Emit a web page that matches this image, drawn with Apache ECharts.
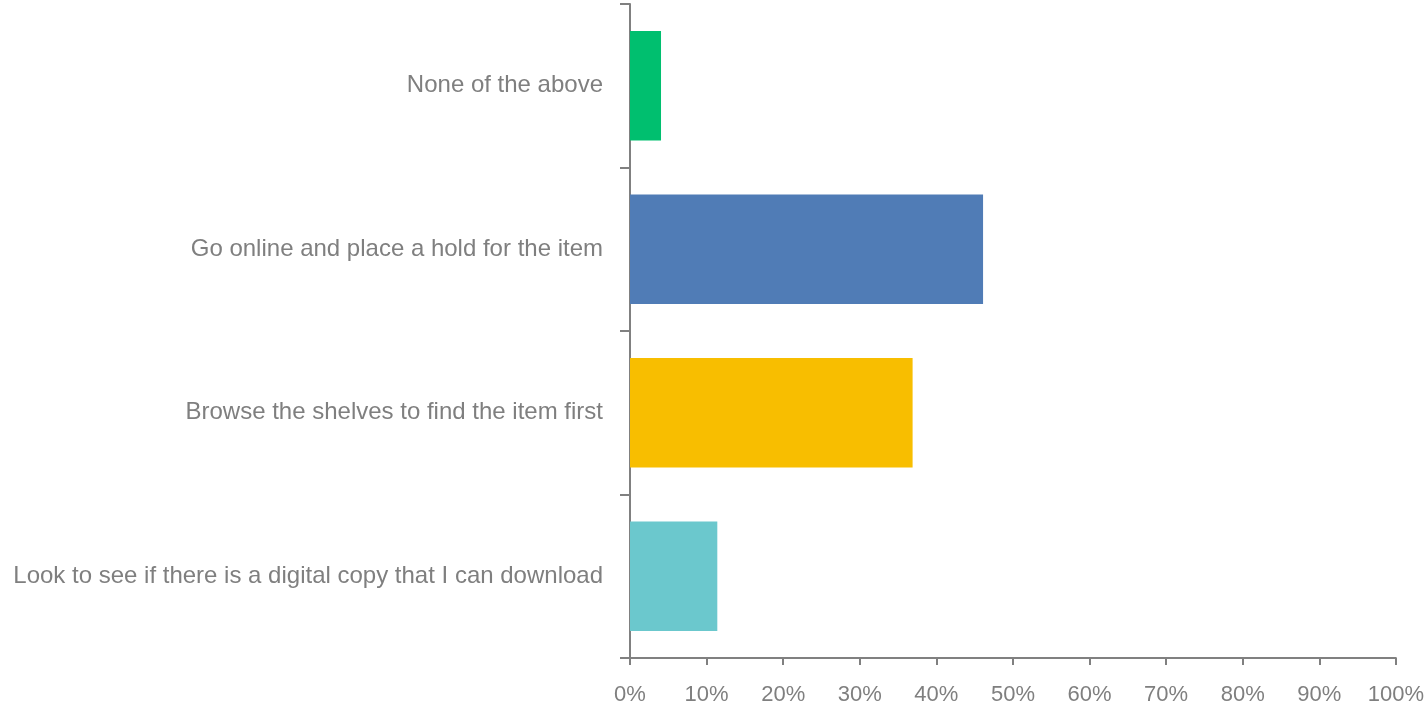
<!DOCTYPE html>
<html>
<head>
<meta charset="utf-8">
<script src="https://cdn.jsdelivr.net/npm/echarts@6/dist/echarts.min.js"></script>
<style>html,body{margin:0;padding:0;background:#fff;}#c{width:1427px;height:707px;}</style>
</head>
<body>
<div id="c"></div>
<script>
const categories = [
  'Look to see if there is a digital copy that I can download',
  'Browse the shelves to find the item first',
  'Go online and place a hold for the item',
  'None of the above'
];
const values = [11.4, 36.9, 46.1, 4.05];
const barColors = ['#6BC8CD', '#F8BE00', '#507CB6', '#00BF6F'];
const xTicks = [0, 10, 20, 30, 40, 50, 60, 70, 80, 90, 100];

const chart = echarts.init(document.getElementById('c'));
chart.setOption({
  animation: false,
  grid: { left: 630, right: 31, top: 4, bottom: 49, containLabel: false },
  xAxis: {
    type: 'value', min: 0, max: 100, interval: 10,
    axisLine: { show: true, lineStyle: { color: '#808080', width: 2 } },
    axisTick: { show: true, length: 7, lineStyle: { color: '#808080', width: 2 } },
    splitLine: { show: false },
    axisLabel: { formatter: v => v + '%', color: '#7f7f7f', fontSize: 22, fontFamily: 'Liberation Sans', margin: 26 }
  },
  yAxis: {
    type: 'category', data: categories,
    axisLine: { show: true, lineStyle: { color: '#808080', width: 2 } },
    axisTick: { show: true, length: 10, lineStyle: { color: '#808080', width: 2 } },
    axisLabel: { color: '#7f7f7f', fontSize: 24, fontFamily: 'Liberation Sans', margin: 27, padding: [4, 0, 0, 0] }
  },
  series: [{
    type: 'bar',
    barCategoryGap: '33%',
    data: values.map((v, i) => ({ value: v, itemStyle: { color: barColors[i] } }))
  }]
});
</script>
</body>
</html>
